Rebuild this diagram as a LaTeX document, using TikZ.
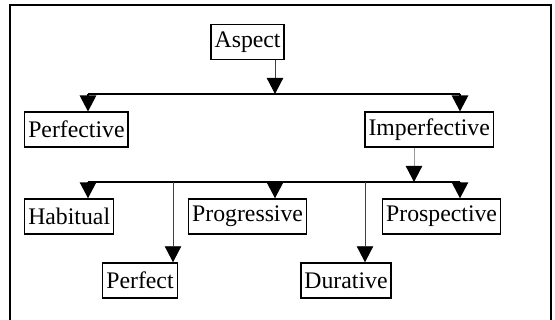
\documentclass[tikz,border=0pt]{standalone}
\usepackage{fontspec}
\setmainfont{Liberation Serif}
\usetikzlibrary{arrows.meta}
\tikzset{
  term/.style={rectangle, draw=black, line width=0.9pt, align=center,
    font=\fontsize{16.9}{19}\selectfont, inner xsep=2.5pt, inner ysep=1pt,
    minimum height=8.75mm},
  bus/.style={line width=1.1pt},
  down/.style={-{Triangle[length=4mm,width=4.1mm,color=black]}, line width=1.1pt},
  downthin/.style={-{Triangle[length=4mm,width=4.1mm,color=black]}, line width=0.6pt, draw=black!75},
}
\begin{document}
\begin{tikzpicture}
\useasboundingbox (0,0) rectangle (13.875,-8);
% Frame (open at the bottom)
\draw[line width=1.5pt] (0.25,-8) -- (0.25,-0.125) -- (13.78,-0.125) -- (13.78,-8);
% Top level
\node[term] (asp)   at (6.19,-1.05)  {Aspect};
\node[term] (pfv)   at (1.91,-3.24)  {Perfective};
\node[term] (ipfv)  at (10.73,-3.24) {Imperfective};
% Imperfective subtypes
\node[term] (hab)   at (1.73,-5.41)  {Habitual};
\node[term] (prog)  at (6.19,-5.41)  {Progressive};
\node[term] (prosp) at (11.04,-5.41) {Prospective};
\node[term] (prf)   at (3.5,-7.01)   {Perfect};
\node[term] (dur)   at (8.65,-7.01)  {Durative};
% First bus
\coordinate (b1w) at (2.2,-2.35);
\coordinate (b1e) at (11.5,-2.35);
\coordinate (j1)  at (6.875,-2.35);
\draw[bus] (b1w) -- (b1e);
\draw[downthin] (asp.south -| j1) -- (j1);
\draw[down] (b1w) -- (b1w |- pfv.north);
\draw[down] (b1e) -- (b1e |- ipfv.north);
% Second bus
\coordinate (b2w) at (2.2,-4.55);
\coordinate (b2e) at (11.5,-4.55);
\coordinate (j2)  at (10.35,-4.55);
\coordinate (b2m) at (6.875,-4.55);
\coordinate (t1)  at (4.325,-4.55);
\coordinate (t2)  at (9.125,-4.55);
\draw[bus] (b2w) -- (b2e);
\draw[downthin, draw=black!40] (ipfv.south -| j2) -- (j2);
\draw[down] (b2w) -- (b2w |- hab.north);
\draw[down] (b2m) -- (b2m |- prog.north);
\draw[down] (b2e) -- (b2e |- prosp.north);
\draw[downthin] (t1) -- (t1 |- prf.north);
\draw[downthin] (t2) -- (t2 |- dur.north);
\end{tikzpicture}
\end{document}
